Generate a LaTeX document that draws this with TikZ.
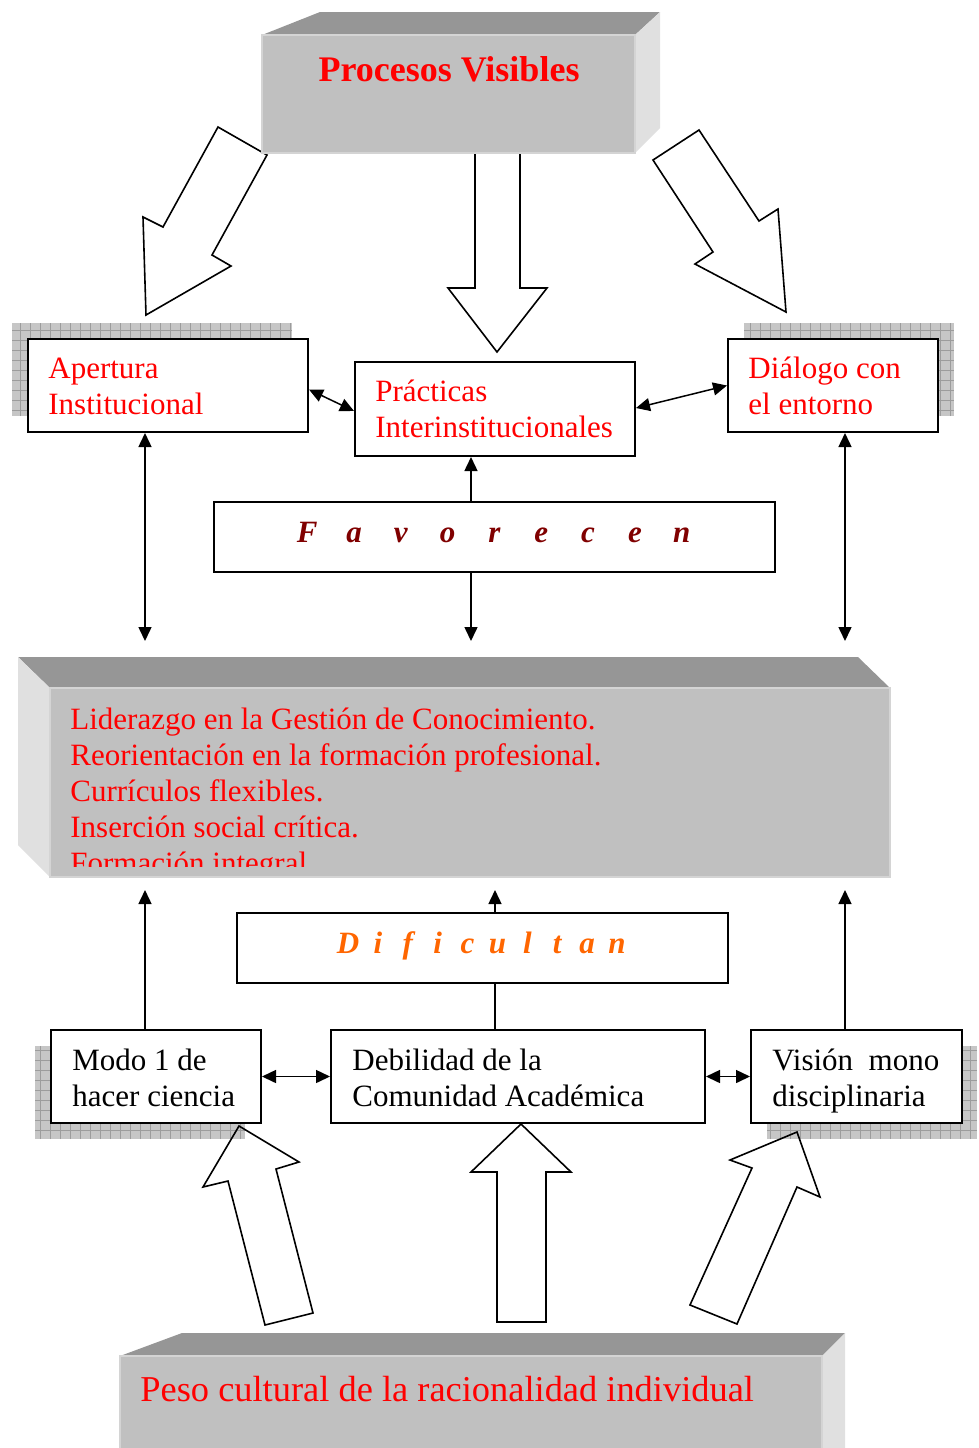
\documentclass[tikz,border=0pt]{standalone}
\usepackage{fontspec}
\setmainfont{Liberation Serif}
\usetikzlibrary{arrows.meta}
\definecolor{frontgray}{HTML}{C0C0C0}
\definecolor{topgray}{HTML}{969696}
\definecolor{sidegray}{HTML}{E0E0E0}
\definecolor{edgegray}{HTML}{D4D4D4}
\definecolor{darkred}{HTML}{800000}
\definecolor{orng}{HTML}{FF6600}
\definecolor{shadefill}{HTML}{C6C6C6}
\definecolor{shadeline}{HTML}{9C9C9C}
\begin{document}
\begin{tikzpicture}[x=0.5pt,y=-0.5pt,
  >={Triangle[length=7pt,width=6.5pt]},
  box/.style={draw=black, line width=1pt, fill=white, inner sep=0pt, minimum height=46.5pt},
  conn/.style={line width=0.75pt},
  blockarrow/.style={draw=black, line width=0.8pt, line join=miter},
  txt/.style={inner sep=0pt, anchor=base west, font=\fontsize{15.5}{18}\selectfont},
  redtxt/.style={txt, text=red},
  shadowgridlines/.style={draw=shadeline, line width=0.3pt},
  front/.style={fill=frontgray, draw=edgegray, line width=0.6pt},
  topface/.style={fill=topgray},
  sideface/.style={fill=sidegray},
]
\useasboundingbox (0,0) rectangle (979,1448);
\fill[white] (0,0) rectangle (979,1448);

% patterned shadows
\foreach \a/\b/\c/\d in {12/323/292/416, 744/323/954/416, 35/1046/245/1139, 767/1046/977/1139} {
  \fill[shadefill] (\a,\b) rectangle (\c,\d);
  \draw[shadowgridlines, step=5pt] (\a,\b) grid (\c,\d);
}

% block arrows (top)
\draw[blockarrow] (218,127)--(267,155)--(212,255)--(231,266)--(146,315)--(143,217)--(163,227)--cycle;
\draw[blockarrow] (699,130)--(759,221)--(778,209)--(786,312)--(695,264)--(713,252)--(653,160)--cycle;
\draw[blockarrow] (475,150)--(475,288)--(448,288)--(497,352)--(547,288)--(520,288)--(520,150);
% block arrows (bottom)
\draw[blockarrow] (239,1126)--(299,1162)--(276,1169)--(313,1313)--(265,1325)--(228,1181)--(203,1187)--cycle;
\draw[blockarrow] (521,1124)--(571,1172)--(546,1172)--(546,1322)--(497,1322)--(497,1172)--(471,1172)--cycle;
\draw[blockarrow] (797,1132)--(820,1197)--(797,1187)--(737,1324)--(690,1305)--(752,1168)--(730,1160)--cycle;

% top 3D box
\fill[topface] (262,35)--(320,12)--(660,12)--(635,35)--cycle;
\fill[sideface] (635,35)--(660,12)--(660,128)--(635,153)--cycle;
\draw[front] (262,35) rectangle (635,153);
\node[inner sep=0pt, anchor=base, text=red, font=\fontsize{18}{21}\selectfont\bfseries] (proc) at (449,81) {Procesos Visibles};

% middle 3D box
\fill[topface] (18,657)--(858,657)--(890,688)--(50,688)--cycle;
\fill[sideface] (18,657)--(50,688)--(50,877)--(18,845)--cycle;
\draw[front] (50,688) rectangle (890,877);
\begin{scope}
  \clip (50,688) rectangle (890,866);
  \node[redtxt] (midtxt) at (70,729) {\parbox[t]{410pt}{Liderazgo en la Gestión de Conocimiento.\\Reorientación en la formación profesional.\\Currículos flexibles.\\Inserción social crítica.\\Formación integral}};
\end{scope}

% bottom 3D box
\fill[topface] (120,1356)--(182,1333)--(845,1333)--(822,1356)--cycle;
\fill[sideface] (822,1356)--(845,1333)--(845,1448)--(822,1448)--cycle;
\draw[front] (120,1356) rectangle (822,1449);
\node[inner sep=0pt, anchor=base west, text=red, font=\fontsize{18.2}{21}\selectfont] (peso) at (140,1401) {Peso cultural de la racionalidad individual};

% boxes
\node[box, minimum width=140pt] (apert) at (168,385.5) {};
\node[box, minimum width=140pt, minimum height=47pt] (pract) at (495,409) {};
\node[box, minimum width=105pt] (dialog) at (833,385.5) {};
\node[box, minimum width=280.5pt, minimum height=35pt] (favor) at (494.5,537) {};
\node[box, minimum width=245.5pt, minimum height=35pt] (dific) at (482.5,948) {};
\node[box, minimum width=105pt] (modo) at (156,1076.5) {};
\node[box, minimum width=187pt] (debil) at (518,1076.5) {};
\node[box, minimum width=105.5pt] (vision) at (856.5,1076.5) {};

% texts in boxes
\node[redtxt] (apertxt) at (48,378) {\parbox[t]{130pt}{Apertura\\Institucional}};
\node[redtxt] (practxt) at (375,401) {\parbox[t]{130pt}{Prácticas\\Interinstitucionales}};
\node[redtxt] (dialtxt) at (748,378) {\parbox[t]{100pt}{Diálogo con\\el entorno}};
\node[txt] (modotxt) at (72,1070) {\parbox[t]{100pt}{Modo 1 de\\hacer ciencia}};
\node[txt] (debiltxt) at (352,1070) {\parbox[t]{180pt}{Debilidad de la\\Comunidad Académica}};
\node[txt] (vistxt) at (772,1070) {\parbox[t]{100pt}{Visión\ \ mono\\disciplinaria}};
\node[inner sep=0pt, anchor=base, text=darkred, font=\fontsize{15.5}{18}\selectfont\bfseries\itshape] (favtxt) at (494.5,542)
  {\makebox[23.4pt]{F}\makebox[23.4pt]{a}\makebox[23.4pt]{v}\makebox[23.4pt]{o}\makebox[23.4pt]{r}\makebox[23.4pt]{e}\makebox[23.4pt]{c}\makebox[23.4pt]{e}\makebox[23.4pt]{n}};
\node[inner sep=0pt, anchor=base, text=orng, font=\fontsize{15.5}{18}\selectfont\bfseries\itshape] (diftxt) at (482.5,953)
  {\makebox[14.95pt]{D}\makebox[14.95pt]{i}\makebox[14.95pt]{f}\makebox[14.95pt]{i}\makebox[14.95pt]{c}\makebox[14.95pt]{u}\makebox[14.95pt]{l}\makebox[14.95pt]{t}\makebox[14.95pt]{a}\makebox[14.95pt]{n}};

% free ends of connectors
\coordinate (a1) at (145,641);
\coordinate (c1) at (471,641);
\coordinate (d1) at (845,641);
\coordinate (b1) at (145,890);
\coordinate (b2) at (495,890);
\coordinate (b3) at (845,890);

% connectors
\draw[conn,<->] ([yshift=-2pt]apert.east) -- ([yshift=-1pt]pract.west);
\draw[conn,<->] ([yshift=0.5pt]pract.east) -- (dialog.west);
\draw[conn,->] (favor.north -| c1) -- (pract.south -| c1);
\draw[conn,->] (favor.south -| c1) -- (c1);
\draw[conn,<->] (apert.south -| a1) -- (a1);
\draw[conn,<->] (dialog.south -| d1) -- (d1);
\draw[conn,->] (modo.north -| b1) -- (b1);
\draw[conn,->] (vision.north -| b3) -- (b3);
\draw[conn,->] (dific.north -| b2) -- (b2);
\draw[conn] (debil.north -| b2) -- (dific.south -| b2);
\draw[conn,<->] (modo.east) -- (debil.west);
\draw[conn,<->] (debil.east) -- (vision.west);
\end{tikzpicture}
\end{document}
